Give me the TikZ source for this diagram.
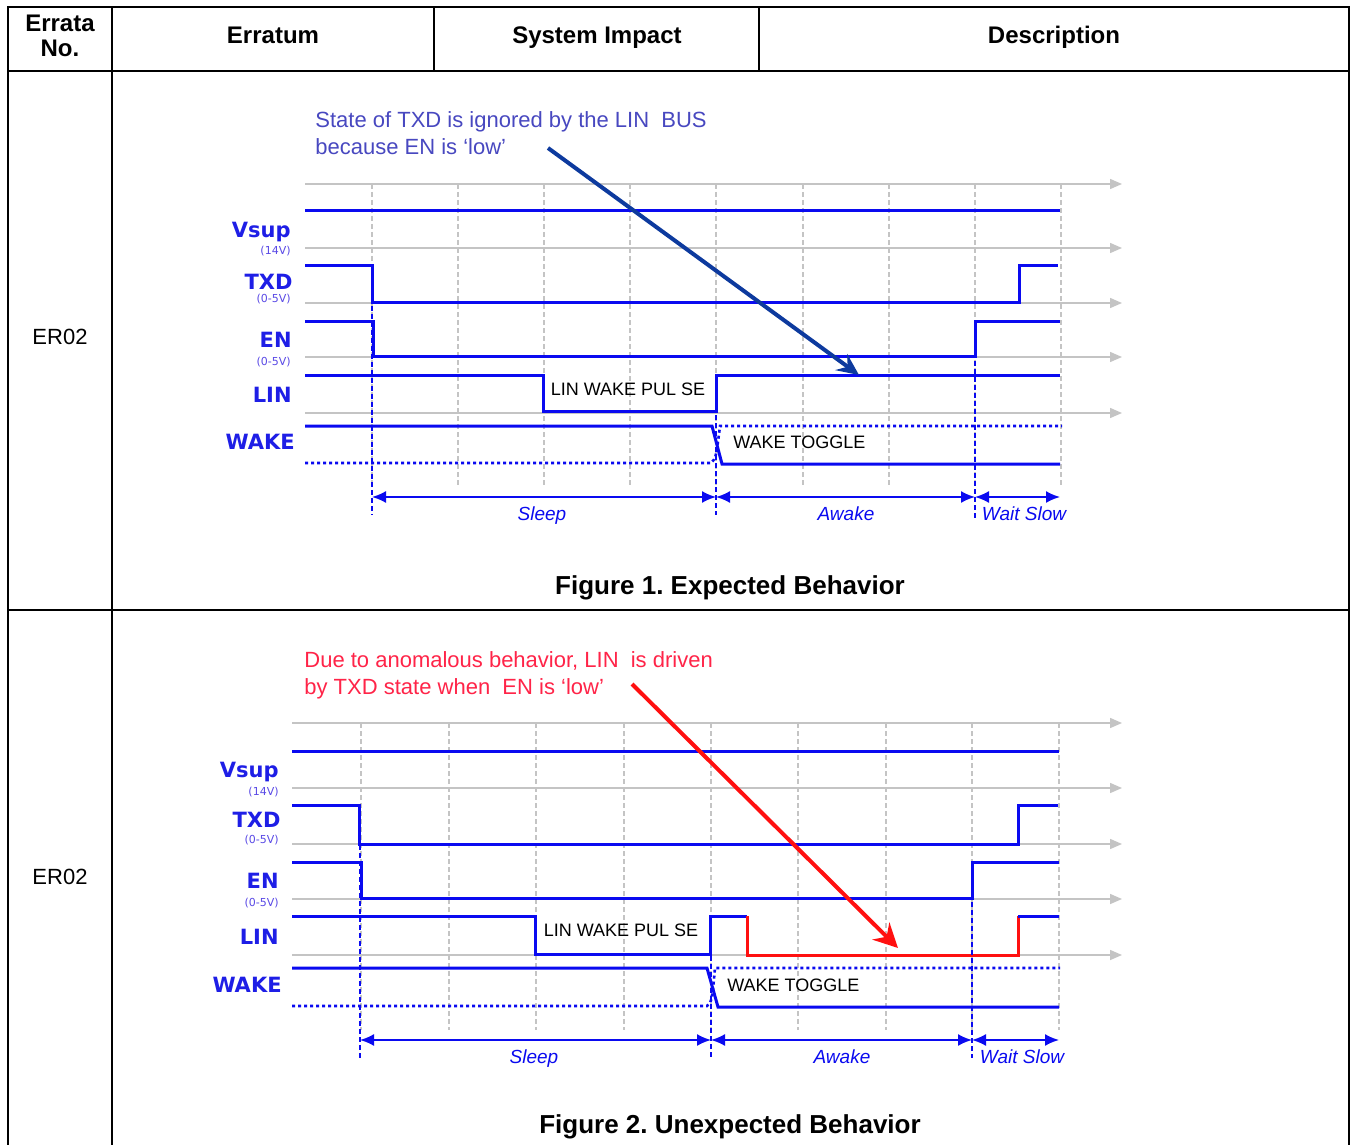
\documentclass[tikz,border=0pt]{standalone}
\usepackage{fontspec}
\setmainfont{Liberation Sans}
\newfontfamily\dejavu{DejaVu Sans}
\usetikzlibrary{arrows.meta}
\frenchspacing
\definecolor{sigblue}{HTML}{0A0AF0}
\definecolor{lblblue}{HTML}{1E1EE6}
\definecolor{subblue}{HTML}{5A4AE6}
\definecolor{noteone}{HTML}{4848C0}
\definecolor{notetwo}{HTML}{FF2448}
\definecolor{navyc}{HTML}{0D3A9E}
\definecolor{gridc}{HTML}{C4C4C4}
\definecolor{redsig}{HTML}{FF1010}
\begin{document}
\begin{tikzpicture}[x=0.5pt,y=-0.5pt,
  tbl/.style={line width=1pt,black},
  hdr/.style={font=\bfseries\fontsize{12}{12.5}\selectfont,inner sep=0pt,anchor=base},
  rowlbl/.style={font=\fontsize{11}{13}\selectfont,inner sep=0pt},
  gridh/.style={gridc,line width=0.75pt,-{Triangle[length=6pt,width=5pt]}},
  gridv/.style={gridc,line width=0.6pt,dash pattern=on 2.5pt off 1.5pt},
  wave/.style={sigblue,line width=1.5pt},
  wavered/.style={redsig,line width=1.5pt},
  wavedot/.style={sigblue,line width=1.3pt,dash pattern=on 1.5pt off 1.5pt},
  marker/.style={sigblue,line width=0.7pt,dash pattern=on 2.5pt off 1.5pt},
  span/.style={sigblue,line width=0.9pt,{Latex[length=7pt,width=6pt]}-{Latex[length=7pt,width=6pt]}},
  spanlbl/.style={sigblue,font=\itshape\fontsize{9.5}{11}\selectfont,inner sep=0pt,anchor=base},
  lab/.style={lblblue,font=\dejavu\bfseries\fontsize{10.5}{12}\selectfont,inner sep=0pt,anchor=base east},
  sublab/.style={subblue,font=\dejavu\fontsize{5.5}{6}\selectfont,inner sep=0pt,anchor=base east},
  pulse/.style={black,font=\fontsize{9}{10}\selectfont,inner sep=0pt},
  note/.style={font=\fontsize{11}{13.5}\selectfont,align=left,inner sep=0pt,anchor=base west},
  caption/.style={font=\bfseries\fontsize{13}{15}\selectfont,inner sep=0pt,anchor=base}
]
\useasboundingbox (0,0) rectangle (1351,1145);
\fill[white] (0,0) rectangle (1351,1145);
% ---------------- table ----------------
\draw[tbl] (8,1145) -- (8,7) -- (1349,7) -- (1349,1145);
\draw[tbl] (8,71) -- (1349,71);
\draw[tbl] (8,610) -- (1349,610);
\draw[tbl] (112,7) -- (112,1145);
\draw[tbl] (434,7) -- (434,71);
\draw[tbl] (759,7) -- (759,71);
\node[hdr] (hnoa) at (60,32) {Errata};
\node[hdr] (hnob) at (60,57) {No.};
\node[hdr] (herr) at (273,44) {Erratum};
\node[hdr] (himp) at (597,44) {System Impact};
\node[hdr] (hdesc) at (1054,44) {Description};
\node[rowlbl] (rowa) at (60,337) {ER02};
\node[rowlbl] (rowb) at (60,877) {ER02};

% ================= Figure 1 =================
\foreach \y in {184,248,303,357,413} \draw[gridh] (305,\y) -- (1122,\y);
\foreach \x in {372,458,544,630,716,803,889,975,1061} \draw[gridv] (\x,184) -- (\x,488);
% waves
\draw[wave] (305,211) -- (1060,211);
\draw[wave] (305,266) -- (372,266) -- (372,302) -- (1019,302) -- (1019,266) -- (1058,266);
\draw[wave] (305,321) -- (373,321) -- (373,356) -- (975,356) -- (975,321) -- (1060,321);
\draw[wave] (305,375) -- (543,375) -- (543,411) -- (716,411) -- (716,375) -- (1060,375);
\draw[wave] (305,426) -- (712,426) -- (722,464) -- (1060,464);
\draw[wavedot] (305,463) -- (711,463) .. controls (716,458) .. (720,426) -- (1062,426);
% markers
\draw[marker] (372,266) -- (372,515);
\draw[marker] (716,375) -- (716,515);
\draw[marker] (975,321) -- (975,520);
\coordinate (sa1) at (372,497);
\coordinate (sa2) at (716,497);
\coordinate (sa3) at (975,497);
\coordinate (sa4) at (1060,497);
\draw[span] (sa1) -- (sa2);
\draw[span] (sa2) -- (sa3);
\draw[span] (sa3) -- (sa4);
\node[spanlbl] (sleepa) at (542,520) {Sleep};
\node[spanlbl] (awakea) at (846,520) {Awake};
\node[spanlbl] (waita) at (1024,520) {Wait Slow};
% labels
\node[lab] (vsupa) at (291,238) {Vsup};
\node[sublab] (vsupva) at (291,255) {(14V)};
\node[lab] (txda) at (293,290) {TXD};
\node[sublab] (txdva) at (291,302) {(0-5V)};
\node[lab] (ena) at (292,347) {EN};
\node[sublab] (enva) at (291,365) {(0-5V)};
\node[lab] (lina) at (292,402) {LIN};
\node[lab] (wakea) at (295,449) {WAKE};
\node[pulse] (pulsea) at (628,389) {LIN WAKE PUL SE};
\node[pulse,anchor=west] (togglea) at (733,442) {WAKE TOGGLE};
% annotation
\node[note,noteone] (notea) at (315,155) {State of TXD is ignored by the LIN\ \ BUS\\because EN is `low'};
\coordinate (arrAs) at (548,148);
\coordinate (arrAe) at (859,375);
\draw[navyc,line width=2pt,-{Stealth[length=11pt,width=10pt,inset=4pt]}] (arrAs) -- (arrAe);
\node[caption] (capa) at (730,594) {Figure 1. Expected Behavior};

% ================= Figure 2 =================
\foreach \y in {723,788,844,899,955} \draw[gridh] (292,\y) -- (1122,\y);
\foreach \x in {361,449,536,624,711,798,886,972,1059} \draw[gridv] (\x,723) -- (\x,1030);
% waves
\draw[wave] (292,751) -- (1059,751);
\draw[wave] (292,805) -- (359,805) -- (359,844) -- (1018,844) -- (1018,805) -- (1058,805);
\draw[wave] (292,862) -- (361,862) -- (361,898) -- (972,898) -- (972,862) -- (1059,862);
\draw[wave] (292,916) -- (535,916) -- (535,954) -- (710,954) -- (710,916) -- (747,916);
\draw[wavered] (747,916) -- (747,955) -- (1018,955) -- (1018,916);
\draw[wave] (1018,916) -- (1059,916);
\draw[wave] (292,968) -- (707,968) -- (718,1007) -- (1059,1007);
\draw[wavedot] (292,1006) -- (707,1006) .. controls (712,1001) .. (715,968) -- (1060,968);
% markers
\draw[marker] (360,805) -- (360,1058);
\draw[marker] (711,916) -- (711,1058);
\draw[marker] (972,862) -- (972,1058);
\coordinate (sb1) at (360,1040);
\coordinate (sb2) at (711,1040);
\coordinate (sb3) at (972,1040);
\coordinate (sb4) at (1059,1040);
\draw[span] (sb1) -- (sb2);
\draw[span] (sb2) -- (sb3);
\draw[span] (sb3) -- (sb4);
\node[spanlbl] (sleepb) at (534,1063) {Sleep};
\node[spanlbl] (awakeb) at (842,1063) {Awake};
\node[spanlbl] (waitb) at (1022,1063) {Wait Slow};
% labels
\node[lab] (vsupb) at (279,777) {Vsup};
\node[sublab] (vsupvb) at (279,795) {(14V)};
\node[lab] (txdb) at (281,827) {TXD};
\node[sublab] (txdvb) at (279,843) {(0-5V)};
\node[lab] (enb) at (279,888) {EN};
\node[sublab] (envb) at (279,906) {(0-5V)};
\node[lab] (linb) at (279,944) {LIN};
\node[lab] (wakeb) at (282,992) {WAKE};
\node[pulse] (pulseb) at (621,930) {LIN WAKE PUL SE};
\node[pulse,anchor=west] (toggleb) at (727,985) {WAKE TOGGLE};
% annotation
\node[note,notetwo] (noteb) at (304,694) {Due to anomalous behavior, LIN\ \ is driven\\by TXD state when\ \ EN is `low'};
\coordinate (arrBs) at (632,684);
\coordinate (arrBe) at (898,948);
\draw[redsig,line width=2pt,-{Stealth[length=12pt,width=12pt,inset=4pt]}] (arrBs) -- (arrBe);
\node[caption] (capb) at (730,1133) {Figure 2. Unexpected Behavior};
\end{tikzpicture}
\end{document}
